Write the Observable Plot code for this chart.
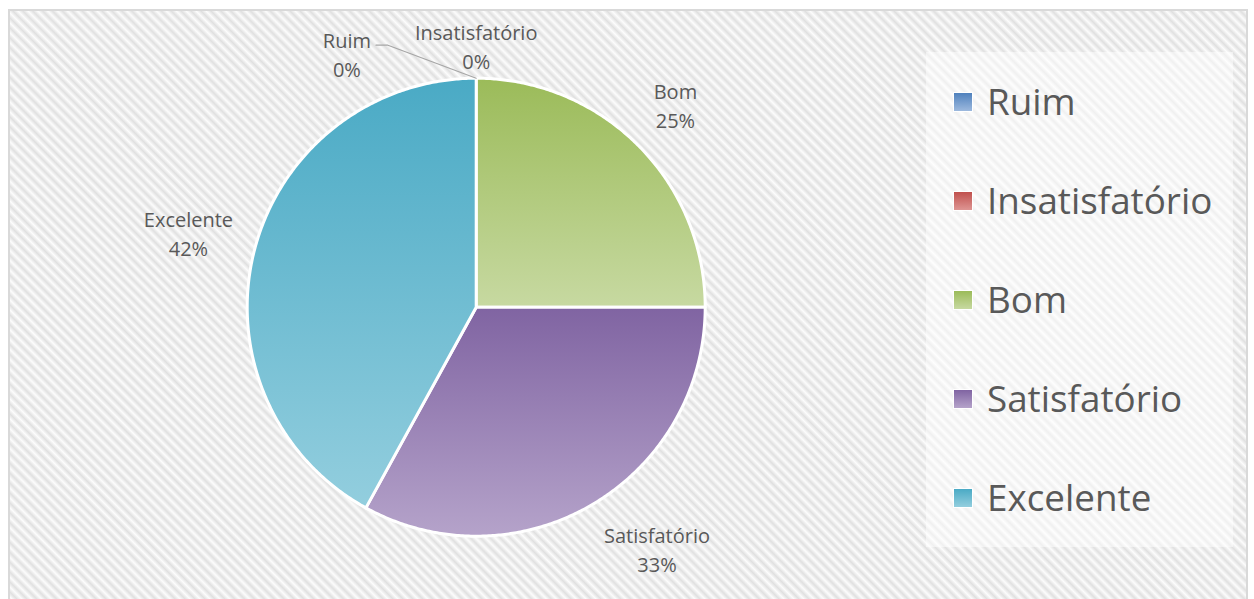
<!DOCTYPE html>
<html><head><meta charset="utf-8">
<script src="https://cdn.jsdelivr.net/npm/d3@7"></script>
<script src="https://cdn.jsdelivr.net/npm/@observablehq/plot@0.6"></script>
<style>
html,body{margin:0;padding:0;background:#fff;}
#chart{position:relative;width:1254px;height:599px;overflow:hidden;font-family:"Open Sans",sans-serif;}
#frame{position:absolute;left:8px;top:9px;width:1240px;height:600px;box-sizing:border-box;border:2px solid #D9D9D9;
  background:repeating-linear-gradient(45deg,#fcfcfc 0px,#e0e0e0 3.5px,#fcfcfc 7px);}
#pie{position:absolute;left:0;top:0;}
#legend{position:absolute;left:926px;top:52px;width:307px;height:495px;background:rgba(255,255,255,0.5);display:flex;flex-direction:column;}
.item{flex:1;display:flex;align-items:center;padding-left:27px;}
.sw{width:20px;height:20px;box-sizing:border-box;border:1.5px solid #fff;margin-right:14px;flex:none;}
.lab{font-size:36.8px;color:#595959;line-height:1;white-space:nowrap;}
</style></head><body>
<div id="chart"><div id="frame"></div><div id="pie"></div><div id="legend"></div></div>
<script>
// ---- data ----
const categories = ["Ruim", "Insatisfatório", "Bom", "Satisfatório", "Excelente"];
const values = [0, 0, 25, 33, 42];
// ---- style ----
const topColors = ["#4F81BD", "#C0504D", "#9BBB59", "#8064A2", "#4AAAC5"];
const bottomColors = ["#9DB9DE", "#DE9593", "#C7D9A1", "#B5A3CA", "#93CEDE"];
const textColor = "#595959";
const FONT = "Open Sans";
const FS = 20;          // data label font size
const LH = 29;          // data label line height (px)
const W = 920, H = 599, cx = 475.7, cy = 306.7, R = 229;

const total = d3.sum(values);
const pctText = values.map(v => Math.round(v / total * 100) + "%");

const toX = px => (px - cx) / R;
const toY = py => (cy - py) / R;

const arcs = d3.pie().sort(null).value(d => d)(values);

// slice outlines from the pie angles
const slices = [];
arcs.forEach((a, i) => {
  const span = a.endAngle - a.startAngle;
  if (span <= 0) return;
  const n = Math.max(2, Math.ceil(span / (Math.PI / 360)));
  const pts = [{x: 0, y: 0}];
  for (let k = 0; k <= n; k++) {
    const t = a.startAngle + span * k / n;
    pts.push({x: Math.sin(t), y: Math.cos(t)});
  }
  pts.push({x: 0, y: 0});
  slices.push({i, pts});
});

// label layout
const ctx = document.createElement("canvas").getContext("2d");
ctx.font = `${FS}px "${FONT}"`;
const textW = s => ctx.measureText(s).width;
const clamp = v => Math.max(-1, Math.min(1, v));
const BH = 50, GAP = 22;
const labels = [], leaders = [];
const zeroIdx = [];
arcs.forEach((a, i) => {
  const mid = (a.startAngle + a.endAngle) / 2;
  const dx = Math.sin(mid), dy = -Math.cos(mid);
  const w = Math.max(textW(categories[i]), textW(pctText[i]));
  if (values[i] > 0) {
    const px = cx + (R + GAP) * dx, py = cy + (R + GAP) * dy;
    labels.push({i, w, px: px + w / 2 * clamp(2 * dx), py: py + BH / 2 * clamp(2 * dy)});
  } else zeroIdx.push({i, w, dx, dy});
});
// zero-size slices share one angle: keep the last one at the edge, move the others aside
if (zeroIdx.length) {
  const last = zeroIdx[zeroIdx.length - 1];
  const ex = cx + R * last.dx, ey = cy + R * last.dy;
  let cur = {i: last.i, w: last.w, px: cx + (R + 8 + BH / 2) * last.dx, py: cy + (R + 8 + BH / 2) * last.dy};
  labels.push(cur);
  for (let k = zeroIdx.length - 2; k >= 0; k--) {
    const z = zeroIdx[k];
    const lab = {i: z.i, w: z.w, px: cur.px - cur.w / 2 - 44 - z.w / 2, py: cur.py + 8};
    labels.push(lab);
    const lx = lab.px + z.w / 2 + 5, ly = lab.py - 8;
    leaders.push({id: z.i, x: toX(lx), y: toY(ly)}, {id: z.i, x: toX(lx + 12), y: toY(ly)}, {id: z.i, x: toX(ex), y: toY(ey)});
    cur = lab;
  }
}
labels.forEach(d => { d.text = categories[d.i] + "\n" + pctText[d.i]; d.x = toX(d.px); d.y = toY(d.py); });

const svg = Plot.plot({
  width: W, height: H,
  marginTop: 0, marginRight: 0, marginBottom: 0, marginLeft: 0,
  x: {domain: [toX(0), toX(W)], axis: null},
  y: {domain: [toY(H), toY(0)], axis: null},
  style: {background: "transparent", overflow: "visible"},
  marks: [
    ...slices.map(s => Plot.line(s.pts, {x: "x", y: "y", fill: `url(#grad${s.i})`, stroke: "white", strokeWidth: 3, strokeLinejoin: "round", curve: "linear"})),
    Plot.line(leaders, {x: "x", y: "y", z: "id", stroke: "#A6A6A6", strokeWidth: 1.2, curve: "linear"}),
    Plot.text(labels, {x: "x", y: "y", text: "text", lineAnchor: "middle", textAnchor: "middle", lineHeight: LH / FS, fontSize: FS, fontFamily: FONT, fill: textColor})
  ]
});
const defs = d3.select(svg).insert("defs", ":first-child");
categories.forEach((c, i) => {
  const g = defs.append("linearGradient").attr("id", `grad${i}`).attr("x1", 0).attr("y1", 0).attr("x2", 0).attr("y2", 1);
  g.append("stop").attr("offset", "0%").attr("stop-color", topColors[i]);
  g.append("stop").attr("offset", "100%").attr("stop-color", bottomColors[i]);
});
document.getElementById("pie").appendChild(svg);

// legend
const legend = d3.select("#legend");
categories.forEach((c, i) => {
  const it = legend.append("div").attr("class", "item");
  it.append("div").attr("class", "sw").style("background", `linear-gradient(to bottom, ${topColors[i]}, ${bottomColors[i]})`);
  it.append("div").attr("class", "lab").text(c);
});
</script>
</body></html>
